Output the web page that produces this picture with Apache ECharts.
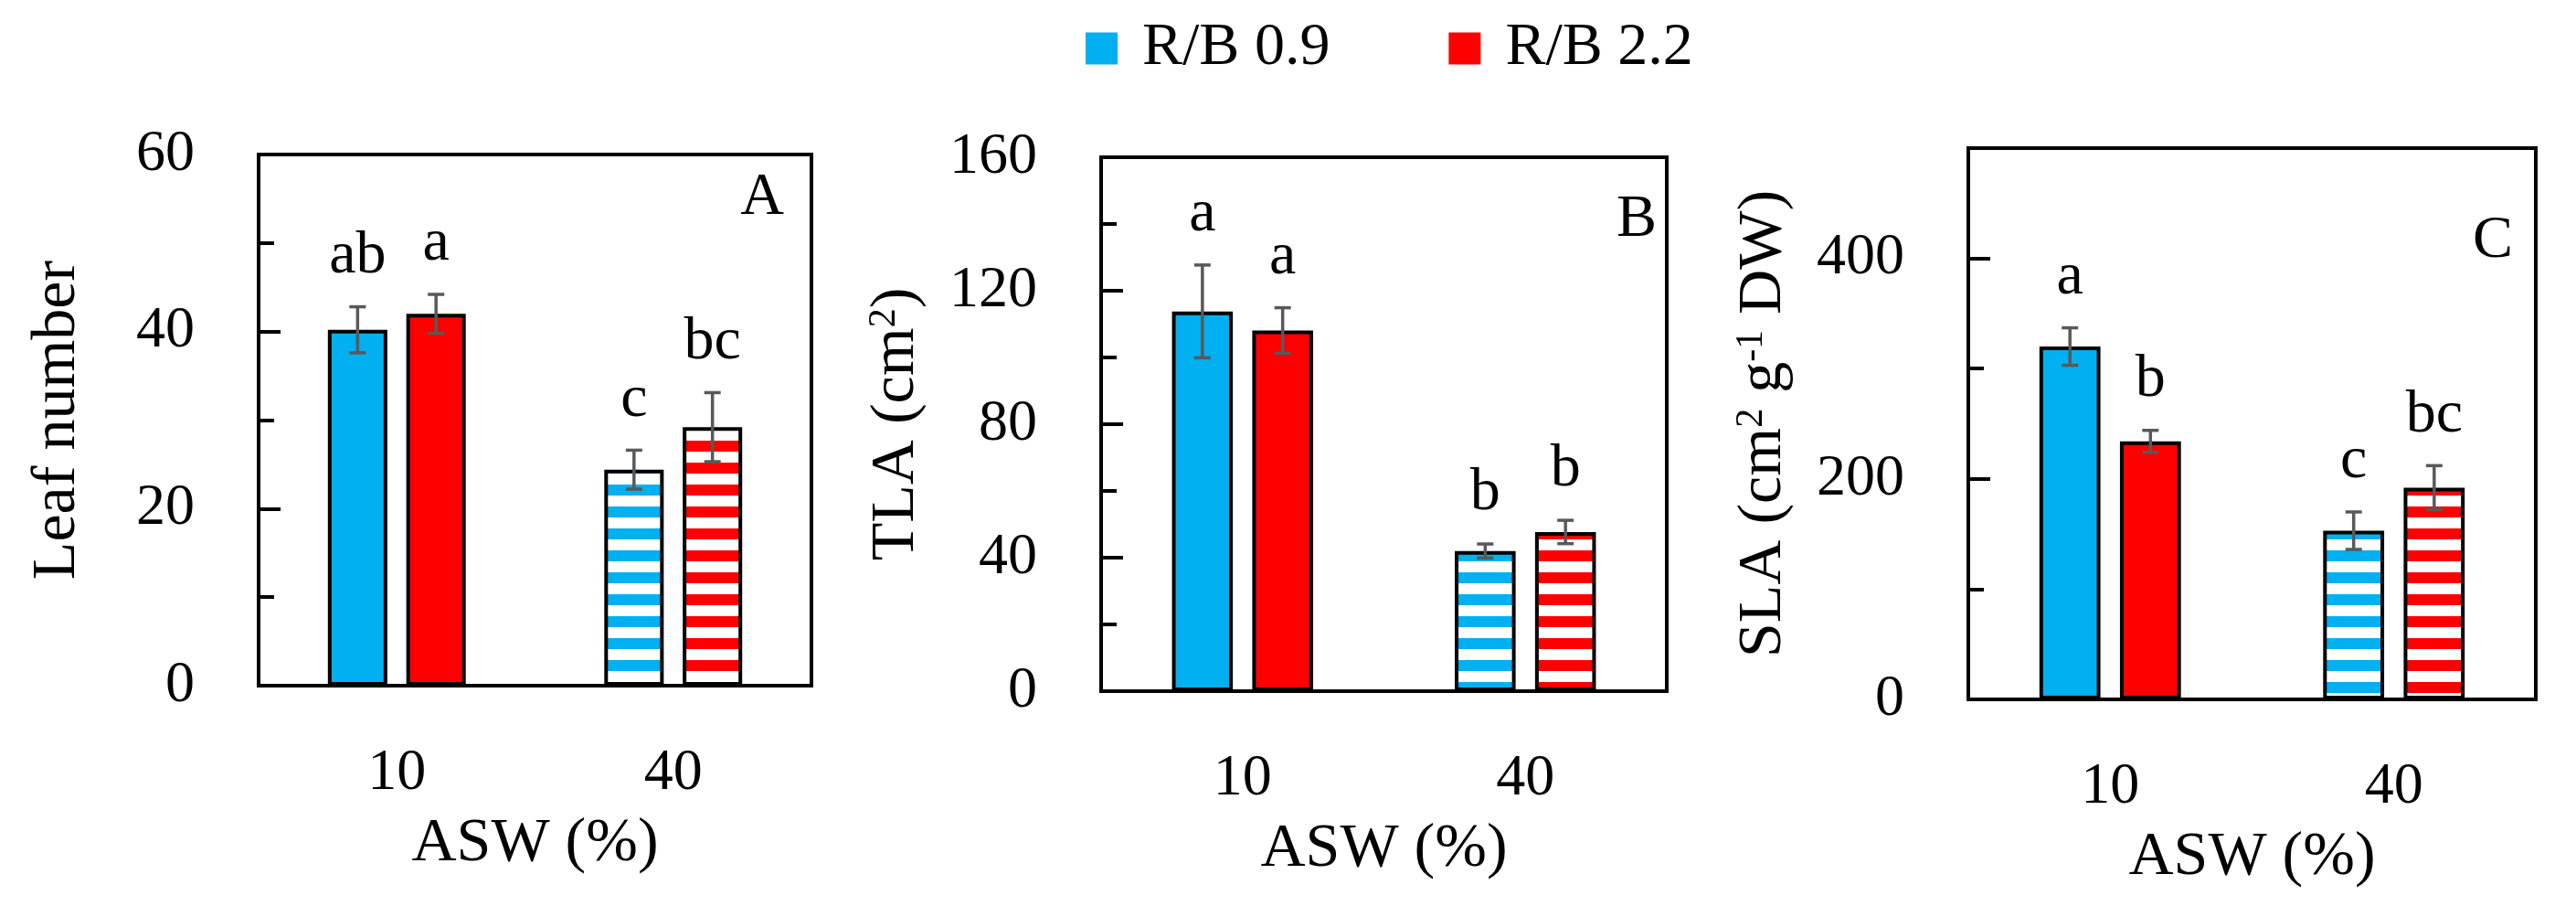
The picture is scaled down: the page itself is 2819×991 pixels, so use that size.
<!DOCTYPE html>
<html>
<head>
<meta charset="utf-8">
<title>Leaf number, TLA and SLA by ASW and R/B ratio</title>
<script src="https://cdn.jsdelivr.net/npm/echarts@6/dist/echarts.min.js"></script>
<style>
  html, body { margin: 0; padding: 0; background: #fff; }
  #chart { width: 2819px; height: 991px; }
</style>
</head>
<body>
<div id="chart"></div>
<script>
const categories = ["10", "40"];
const seriesNames = ["R/B 0.9", "R/B 2.2"];

// A: leaf number
const leafBlue = [40.2, 24.4];
const leafRed = [42.0, 29.2];
const leafBlueErr = [2.6, 2.2];
const leafRedErr = [2.2, 3.9];
const leafLetters = [["ab", "c"], ["a", "bc"]];
const leafTicks = [0, 20, 40, 60];

// B: total leaf area
const tlaBlue = [113.8, 42.0];
const tlaRed = [108.1, 47.7];
const tlaBlueErr = [13.9, 2.1];
const tlaRedErr = [6.8, 3.5];
const tlaLetters = [["a", "b"], ["a", "b"]];
const tlaTicks = [0, 40, 80, 120, 160];

// C: specific leaf area
const slaBlue = [320, 153];
const slaRed = [234, 192];
const slaBlueErr = [17, 17];
const slaRedErr = [10, 20];
const slaLetters = [["a", "c"], ["b", "bc"]];
const slaTicks = [0, 200, 400];

const FONT = '"Liberation Serif", "Times New Roman", serif';
const COLORS = ["#00b0f0", "#ff0000"];
const BAR_W = 0.215;  // share of the category band
const BAR_GAP = 0.32; // share of bar width

const panels = [
  {
    grid: { left: 283, top: 169, width: 605, height: 581 },
    max: 60, major: 20, minor: 10, ticks: leafTicks,
    name: "Leaf number", nameGap: 186,
    tag: "A", tagAt: [834, 217],
    values: [leafBlue, leafRed], errors: [leafBlueErr, leafRedErr], letters: leafLetters,
  },
  {
    grid: { left: 1205, top: 172, width: 619, height: 584 },
    max: 160, major: 40, minor: 20, ticks: tlaTicks,
    name: "TLA (cm{sup|2})", nameGap: 190,
    tag: "B", tagAt: [1791, 241],
    values: [tlaBlue, tlaRed], errors: [tlaBlueErr, tlaRedErr], letters: tlaLetters,
  },
  {
    grid: { left: 2154, top: 162, width: 621, height: 603 },
    max: 500, major: 200, minor: 100, ticks: slaTicks,
    name: "SLA (cm{sup|2} g{sup|-1} DW)", nameGap: 190,
    tag: "C", tagAt: [2728, 264],
    values: [slaBlue, slaRed], errors: [slaBlueErr, slaRedErr], letters: slaLetters,
  },
];

function stripes(color) {
  const c = document.createElement("canvas");
  c.width = 8;
  c.height = 24;
  const ctx = c.getContext("2d");
  ctx.fillStyle = "#fff";
  ctx.fillRect(0, 0, 8, 24);
  ctx.fillStyle = color;
  ctx.fillRect(0, 2, 8, 12);
  return { image: c, repeat: "repeat" };
}
// solid at 10 % ASW, striped at 40 %
const fills = COLORS.map((col) => [col, stripes(col)]);

const grids = [];
const xAxes = [];
const yAxes = [];
const graphics = [];
// empty scatter series first so the legend swatches get plain fills
const series = seriesNames.map((name, s) => ({
  type: "scatter", name, xAxisIndex: 0, yAxisIndex: 0, data: [],
  itemStyle: { color: COLORS[s], borderWidth: 0, opacity: 1 },
}));

panels.forEach((p, k) => {
  grids.push({ ...p.grid, show: true, borderColor: "#000", borderWidth: 4, backgroundColor: "transparent" });

  xAxes.push({
    type: "category", gridIndex: k, data: categories,
    axisLine: { lineStyle: { color: "#000", width: 4 } },
    axisTick: { show: false },
    axisLabel: { color: "#000", fontFamily: FONT, fontSize: 64, margin: 64 },
    name: "ASW (%)", nameLocation: "middle", nameGap: 139,
    nameTextStyle: { color: "#000", fontFamily: FONT, fontSize: 68 },
  });

  yAxes.push({
    type: "value", gridIndex: k, position: "left", min: 0, max: p.max, interval: p.major,
    axisLine: { show: true, lineStyle: { color: "#000", width: 4 } },
    axisTick: { show: true, inside: true, length: 24, lineStyle: { color: "#000", width: 4 } },
    axisLabel: {
      color: "#000", fontFamily: FONT, fontSize: 64, margin: 70,
      formatter: (v) => (p.ticks.includes(v) ? String(v) : ""),
    },
    splitLine: { show: false },
    name: p.name, nameLocation: "middle", nameGap: p.nameGap,
    nameTextStyle: {
      color: "#000", fontFamily: FONT, fontSize: 68,
      rich: { sup: { fontFamily: FONT, fontSize: 42, verticalAlign: "top", color: "#000" } },
    },
  });
  // minor ticks
  yAxes.push({
    type: "value", gridIndex: k, position: "left", offset: 0, min: 0, max: p.max, interval: p.minor,
    axisLine: { show: false },
    axisTick: { show: true, inside: true, length: 17, lineStyle: { color: "#000", width: 4 } },
    axisLabel: { show: false },
    splitLine: { show: false },
  });

  p.values.forEach((vals, s) => {
    series.push({
      type: "bar", name: seriesNames[s], xAxisIndex: k, yAxisIndex: 2 * k,
      barWidth: BAR_W * 100 + "%", barGap: BAR_GAP * 100 + "%",
      itemStyle: { color: COLORS[s], borderColor: "#000", borderWidth: 4 },
      emphasis: { disabled: true },
      data: vals.map((v, c) => ({ value: v, itemStyle: { color: fills[s][c] } })),
    });
  });

  const items = [];
  p.values.forEach((vals, s) =>
    vals.forEach((v, c) => items.push({ value: [c, v, p.errors[s][c], s], letter: p.letters[s][c] }))
  );
  series.push({
    type: "custom", xAxisIndex: k, yAxisIndex: 2 * k, z: 5, silent: true,
    encode: { x: 0, y: 1 },
    data: items.map((d) => d.value),
    renderItem: (params, api) => {
      const c = api.value(0), v = api.value(1), e = api.value(2), s = api.value(3);
      const band = api.size([1, 0])[0];
      const off = (s === 0 ? -1 : 1) * band * BAR_W * (1 + BAR_GAP) / 2;
      const x = api.coord([c, v])[0] + off;
      const top = api.coord([c, v + e])[1];
      const bot = api.coord([c, v - e])[1];
      const line = { stroke: "#595959", lineWidth: 3.5 };
      return {
        type: "group",
        children: [
          { type: "line", shape: { x1: x, y1: top, x2: x, y2: bot }, style: line },
          { type: "line", shape: { x1: x - 9, y1: top, x2: x + 9, y2: top }, style: line },
          { type: "line", shape: { x1: x - 9, y1: bot, x2: x + 9, y2: bot }, style: line },
          {
            type: "text", x: x, y: top - 22,
            style: { text: items[params.dataIndex].letter, fill: "#000", fontFamily: FONT, fontSize: 66, align: "center", verticalAlign: "bottom" },
          },
        ],
      };
    },
  });

  graphics.push({
    type: "text", x: p.tagAt[0], y: p.tagAt[1],
    style: { text: p.tag, fill: "#000", fontFamily: FONT, fontSize: 66, align: "center", verticalAlign: "middle" },
  });
});

const chart = echarts.init(document.getElementById("chart"), null, { renderer: "canvas" });
chart.setOption({
  animation: false,
  backgroundColor: "#fff",
  legend: {
    data: seriesNames,
    left: 1188, top: 20, padding: 0,
    icon: "rect", itemWidth: 35, itemHeight: 35, itemGap: 130,
    selectedMode: false,
    itemStyle: { borderWidth: 0, opacity: 1 },
    textStyle: { color: "#000", fontFamily: FONT, fontSize: 66, padding: [0, 0, 12, 22] },
  },
  grid: grids,
  xAxis: xAxes,
  yAxis: yAxes,
  series: series,
  graphic: graphics,
});
</script>
</body>
</html>
